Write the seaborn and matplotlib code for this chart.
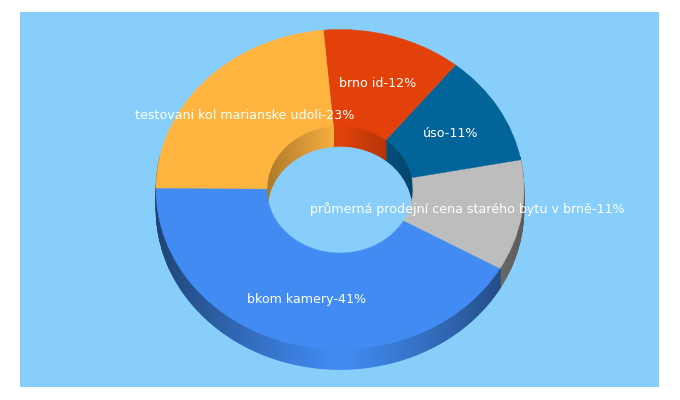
import numpy as np
import matplotlib
matplotlib.use('Agg')
import matplotlib.pyplot as plt
import seaborn as sns

categories = [
    'průmerná prodejní cena starého bytu v brně',
    'úso',
    'brno id',
    'testovani kol marianske udoli',
    'bkom kamery',
]
shares = [11, 11, 12, 23, 41]
slice_colors = ['#BDBDBD', '#036499', '#E2420A', '#FFB440', '#418BF2']
background = '#87CEFA'

sns.set_theme(style='white')
plt.rcParams['font.family'] = ['DejaVu Sans']

labels = [f'{name}-{pct}%' for name, pct in zip(categories, shares)]
palette = sns.color_palette(slice_colors)

fig = plt.figure(figsize=(6.8, 4), dpi=100, facecolor='white')
# panel goes from x 20 to 659 and y 12 to 387 in the 680x400 picture
ax = fig.add_axes([20 / 680, 1 - 387 / 400, 639 / 680, 375 / 400], facecolor=background)

hole = 0.397
depth = 0.125

wedges, texts = ax.pie(
    shares,
    colors=palette,
    labels=labels,
    labeldistance=0.70,
    startangle=-29.7,
    radius=1,
    frame=True,
    wedgeprops={'width': 1 - hole, 'linewidth': 0, 'zorder': 3},
    textprops={'color': 'white', 'fontsize': 9.1, 'zorder': 5},
)
for t in texts:
    t.set_ha('center')
    t.set_va('center_baseline')
for w in wedges:
    # thin edge in the slice colour so no seams show between slices
    w.set_edgecolor(w.get_facecolor())
    w.set_linewidth(0.3)


def draw_wall(wedge, radius, visible, shade):
    base = np.array(wedge.get_facecolor()[:3])
    angles = np.radians(np.arange(wedge.theta1, wedge.theta2 + 1, 1.0))
    for a0, a1 in zip(angles[:-1], angles[1:]):
        if not visible(np.sin((a0 + a1) / 2)):
            continue
        xs = radius * np.array([np.cos(a0), np.cos(a1), np.cos(a1), np.cos(a0)])
        ys = radius * np.array([np.sin(a0), np.sin(a1), np.sin(a1), np.sin(a0)])
        ys = ys - np.array([0, 0, depth, depth])
        col = base * shade(abs(xs.mean()) / radius)
        ax.fill(xs, ys, color=col, lw=0.9, zorder=2)


for w in wedges:
    # outer wall, darker towards both sides
    draw_wall(w, 0.998, lambda s: s < 0.2, lambda u: 1 - 0.52 * u ** 1.2)
    # inside of the hole
    draw_wall(w, hole, lambda s: s > 0, lambda u: 1 - 0.32 * u)

# pie y scale is 160 px per unit, x is 184
ax.set_xlim((20 - 340) / 184, (659 - 340) / 184)
ax.set_ylim((189.5 - 387) / 160, (189.5 - 12) / 160)
ax.set_aspect('auto')
ax.set_xticks([])
ax.set_yticks([])
sns.despine(ax=ax, left=True, bottom=True, top=True, right=True)

plt.savefig('out.png', dpi=100)
